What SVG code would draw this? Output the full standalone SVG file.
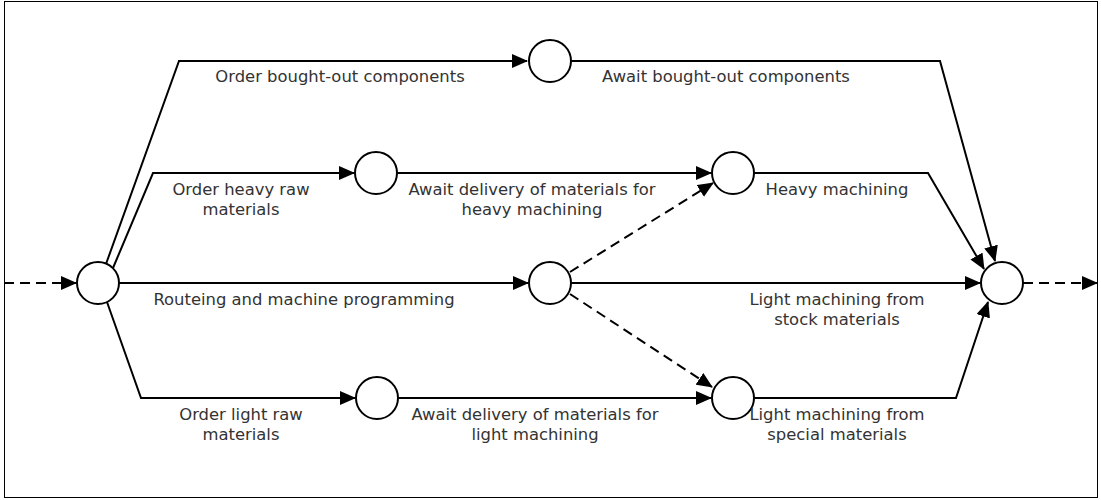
<svg xmlns="http://www.w3.org/2000/svg" width="1101" height="500" viewBox="0 0 1101 500">
<style>
.frame{fill:#fff;stroke:#000;stroke-width:1}
.ev{fill:#fff;stroke:#000;stroke-width:2}
.c{fill:none;stroke:#000;stroke-width:2;marker-end:url(#ah)}
.d{stroke-dasharray:10 6}
.lbl{font-family:"DejaVu Sans",Verdana,sans-serif;font-size:16.4px;fill:#333;text-anchor:middle}
</style>
<defs>
<marker id="ah" markerUnits="userSpaceOnUse" markerWidth="16" markerHeight="14" refX="15" refY="7" orient="auto">
<path d="M0,0 L16,7 L0,14 z" fill="#000"/>
</marker>
</defs>
<rect class="frame" x="4.5" y="1.5" width="1093" height="496"/>
<g id="connectors">
<path class="c d" d="M4,283 L76,283"/>
<path class="c" d="M106,264 L179,61 L527,61"/>
<path class="c" d="M113,268 L153,173 L354,173"/>
<path class="c" d="M119,283 L528,283"/>
<path class="c" d="M107,302 L141,398 L355,398"/>
<path class="c" d="M571,61 L940,61 L995,261"/>
<path class="c" d="M397,173 L711,173"/>
<path class="c" d="M754,173 L928,173 L984,269"/>
<path class="c d" d="M570,272 L713,183"/>
<path class="c" d="M571,283 L980,283"/>
<path class="c d" d="M570,294 L712,387"/>
<path class="c" d="M398,398 L711,398"/>
<path class="c" d="M754,398 L956,398 L988,302"/>
<path class="c d" d="M1023,283 L1097,283"/>
</g>
<g id="n0"><circle class="ev" cx="98" cy="283" r="21"/></g>
<g id="n1"><circle class="ev" cx="550" cy="61" r="21"/></g>
<g id="n2"><circle class="ev" cx="376" cy="173" r="21"/></g>
<g id="n3"><circle class="ev" cx="550" cy="283" r="21"/></g>
<g id="n4"><circle class="ev" cx="733" cy="173" r="21"/></g>
<g id="n5"><circle class="ev" cx="377" cy="398" r="21"/></g>
<g id="n6"><circle class="ev" cx="733" cy="398" r="21"/></g>
<g id="n7"><circle class="ev" cx="1002" cy="283" r="21"/></g>
<g id="labels">
<text class="lbl" x="340" y="82">Order bought-out components</text>
<text class="lbl" x="726" y="82">Await bought-out components</text>
<text class="lbl" x="241" y="195">Order heavy raw</text>
<text class="lbl" x="241" y="215">materials</text>
<text class="lbl" x="532" y="195">Await delivery of materials for</text>
<text class="lbl" x="532" y="215">heavy machining</text>
<text class="lbl" x="837" y="195">Heavy machining</text>
<text class="lbl" x="304" y="305">Routeing and machine programming</text>
<text class="lbl" x="837" y="305">Light machining from</text>
<text class="lbl" x="837" y="325">stock materials</text>
<text class="lbl" x="241" y="420">Order light raw</text>
<text class="lbl" x="241" y="440">materials</text>
<text class="lbl" x="535" y="420">Await delivery of materials for</text>
<text class="lbl" x="535" y="440">light machining</text>
<text class="lbl" x="837" y="420">Light machining from</text>
<text class="lbl" x="837" y="440">special materials</text>
</g>
</svg>
